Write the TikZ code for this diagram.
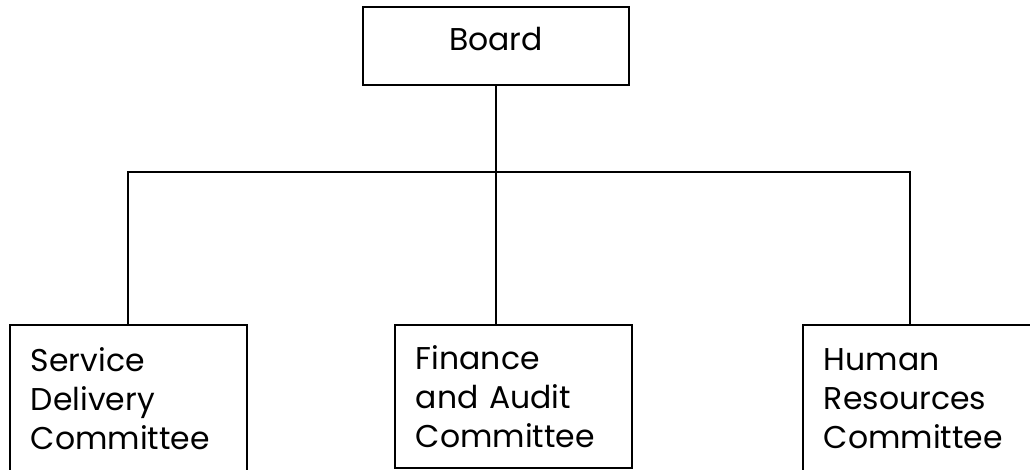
\documentclass[tikz,border=0pt]{standalone}
\usepackage{fontspec}
\setmainfont{Poppins}

\begin{document}
\begin{tikzpicture}[x=0.75pt,y=-0.75pt,
	orgbox/.style={draw=black,line width=1.4pt,inner sep=0pt,font=\fontsize{23.6}{29.25}\selectfont},
	cbox/.style={orgbox,anchor=north west,minimum width=178pt,minimum height=#1,text width=146.5pt,align=left},
	link/.style={draw=black,line width=1.4pt}]

	\useasboundingbox (0,0) rectangle (1030,469);

	\node[orgbox,anchor=north,minimum width=199.5pt,text height=33pt,text depth=25.5pt] (board) at (496,6) {Board};

	\node[cbox=110pt] (sdc) at (9,324) {Service\\Delivery\\Committee};
	\node[cbox=107.25pt] (fac) at (394,324) {Finance\\and Audit\\Committee};
	\node[cbox=110pt] (hrc) at (802,324) {Human\\Resources\\Committee};

	\coordinate (busL) at (128,172);
	\coordinate (busR) at (910,172);

	\path[link] (board.south) -- (board.south |- fac.north);
	\path[link] (busL |- sdc.north) -- (busL) -- (busR) -- (busR |- hrc.north);

\end{tikzpicture}
\end{document}
